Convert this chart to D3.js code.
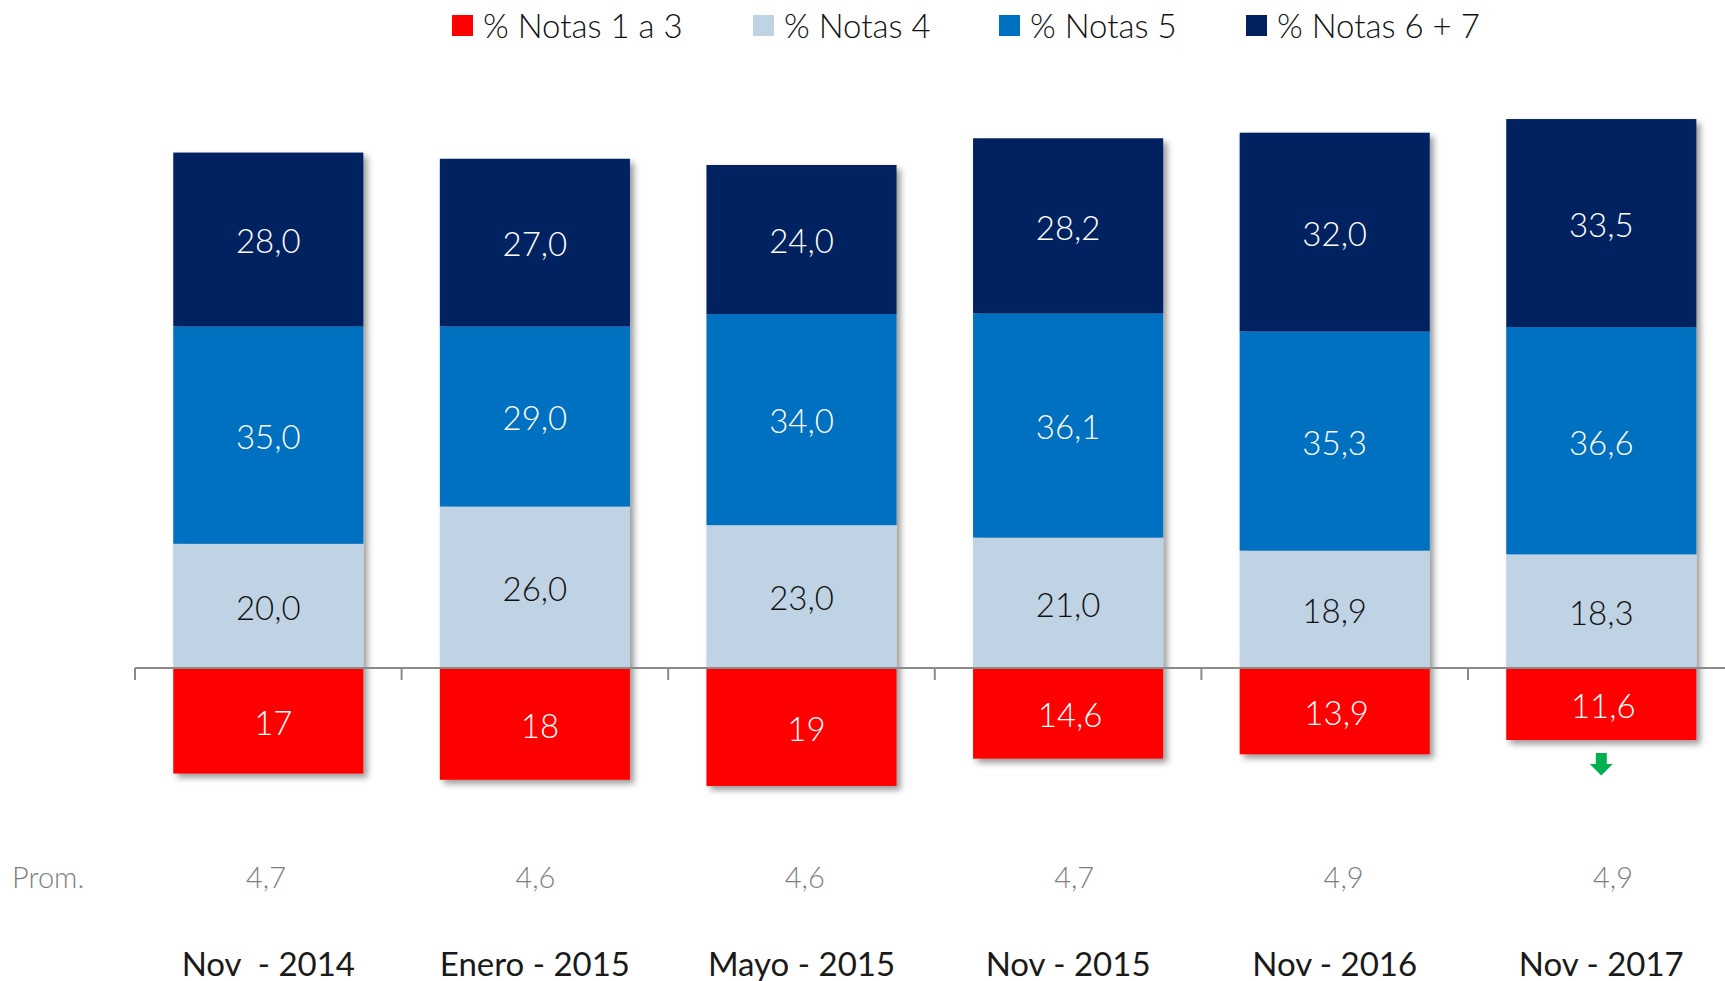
<!DOCTYPE html>
<html>
<head>
<meta charset="utf-8">
<script src="https://cdn.jsdelivr.net/npm/d3@7"></script>
<style>
  html, body { margin: 0; padding: 0; background: #fff; }
  svg { display: block; font-family: Lato, "Open Sans", sans-serif; }
</style>
</head>
<body>
<svg id="chart"></svg>
<script>
// datos
const categories = ["Nov  - 2014", "Enero - 2015", "Mayo - 2015", "Nov - 2015", "Nov - 2016", "Nov - 2017"];
const notas13 = [17, 18, 19, 14.6, 13.9, 11.6];
const notas4 = [20.0, 26.0, 23.0, 21.0, 18.9, 18.3];
const notas5 = [35.0, 29.0, 34.0, 36.1, 35.3, 36.6];
const notas67 = [28.0, 27.0, 24.0, 28.2, 32.0, 33.5];
const promedio = [4.7, 4.6, 4.6, 4.7, 4.9, 4.9];
const legendLabels = ["% Notas 1 a 3", "% Notas 4", "% Notas 5", "% Notas 6 + 7"];
const colors = ["#ff0000", "#c0d3e4", "#0070c0", "#002060"];

const width = 1725, height = 981;
const svg = d3.select("#chart").attr("width", width).attr("height", height);

// sombra de las barras
const defs = svg.append("defs");
defs.append("filter")
    .attr("id", "shadow")
    .attr("x", "-10%").attr("y", "-10%")
    .attr("width", "130%").attr("height", "130%")
    .append("feDropShadow")
    .attr("dx", 4).attr("dy", 4)
    .attr("stdDeviation", 3)
    .attr("flood-color", "#000")
    .attr("flood-opacity", 0.4);

const x = d3.scaleBand()
    .domain(categories)
    .range([135, 135 + 6 * 266.6])
    .paddingInner(0.287)
    .paddingOuter(0.1435);

const y = d3.scaleLinear()
    .domain([-20, 90])
    .range([668 + 20 * 6.21, 668 - 90 * 6.21]);

const fmt = v => v.toFixed(1).replace(".", ",");
const fmtRed = v => Number.isInteger(v) ? String(v) : fmt(v);

// apilado de los valores positivos
const rows = categories.map((c, i) => ({cat: c, n4: notas4[i], n5: notas5[i], n67: notas67[i]}));
const stack = d3.stack().keys(["n4", "n5", "n67"])(rows);

const bars = svg.append("g").attr("id", "bars");

// cada barra es un grupo con sombra
const barG = bars.selectAll("g.bar")
    .data(categories)
    .enter()
    .append("g")
    .attr("class", "bar")
    .attr("filter", "url(#shadow)");

barG.append("rect")
    .attr("x", d => x(d))
    .attr("width", x.bandwidth())
    .attr("y", y(0))
    .attr("height", (d, i) => y(-notas13[i]) - y(0))
    .style("fill", colors[0]);

stack.forEach((layer, k) => {
    barG.append("rect")
        .attr("x", d => x(d))
        .attr("width", x.bandwidth())
        .attr("y", (d, i) => y(layer[i][1]))
        .attr("height", (d, i) => y(layer[i][0]) - y(layer[i][1]))
        .style("fill", colors[k + 1]);
});

// etiquetas dentro de las barras
const labels = svg.append("g").attr("id", "labels")
    .style("font-size", "33px")
    .style("font-weight", 300);

labels.selectAll("text.red")
    .data(categories)
    .enter()
    .append("text")
    .attr("x", (d, i) => x(d) + x.bandwidth() / 2 + (Number.isInteger(notas13[i]) ? 5 : 2))
    .attr("y", (d, i) => y(-notas13[i] / 2))
    .attr("dy", "0.42em")
    .attr("text-anchor", "middle")
    .style("fill", "#fff")
    .text((d, i) => fmtRed(notas13[i]));

stack.forEach((layer, k) => {
    labels.selectAll("text.s" + k)
        .data(categories)
        .enter()
        .append("text")
        .attr("x", d => x(d) + x.bandwidth() / 2)
        .attr("y", (d, i) => y((layer[i][0] + layer[i][1]) / 2))
        .attr("dy", "0.42em")
        .attr("text-anchor", "middle")
        .style("fill", k === 0 ? "#111" : "#fff")
        .text((d, i) => fmt(layer[i][1] - layer[i][0]));
});

// eje horizontal en cero
const axis = svg.append("g").attr("id", "axis")
    .style("stroke", "#8a8a8a")
    .style("stroke-width", 2);
const x0 = x.range()[0];
axis.append("line")
    .attr("x1", x0).attr("x2", width)
    .attr("y1", y(0)).attr("y2", y(0));
axis.selectAll("line.tick")
    .data(d3.range(categories.length + 1))
    .enter()
    .append("line")
    .attr("x1", i => x0 + i * x.step())
    .attr("x2", i => x0 + i * x.step())
    .attr("y1", y(0))
    .attr("y2", y(0) + 12);

// flecha verde bajo el ultimo periodo
const last = categories[categories.length - 1];
const ax = x(last) + x.bandwidth() / 2;
const ay = y(-notas13[notas13.length - 1]) + 13;
svg.append("path")
    .attr("d", `M${ax - 5.5},${ay} h11 v11 h6 l-11.5,11.5 l-11.5,-11.5 h6 z`)
    .style("fill", "#00b050");

// fila de promedios
svg.append("text")
    .attr("x", 12)
    .attr("y", 888)
    .style("font-size", "29px")
    .style("font-weight", 300)
    .style("fill", "#7f7f7f")
    .text("Prom.");

const xp = d3.scalePoint().domain(categories).range([266, 1613]);
svg.append("g").selectAll("text")
    .data(categories)
    .enter()
    .append("text")
    .attr("x", d => xp(d))
    .attr("y", 888)
    .attr("text-anchor", "middle")
    .style("font-size", "29px")
    .style("font-weight", 300)
    .style("fill", "#7f7f7f")
    .text((d, i) => fmt(promedio[i]));

// etiquetas de categorias
svg.append("g").selectAll("text")
    .data(categories)
    .enter()
    .append("text")
    .attr("x", d => x(d) + x.bandwidth() / 2)
    .attr("y", 976)
    .attr("text-anchor", "middle")
    .style("font-size", "33px")
    .style("fill", "#1a1a1a")
    .style("white-space", "pre")
    .text(d => d);

// leyenda
const legendX = [452, 753, 999, 1246];
const legend = svg.append("g").attr("id", "legend");
legendLabels.forEach((l, i) => {
    legend.append("rect")
        .attr("x", legendX[i])
        .attr("y", 15)
        .attr("width", 21)
        .attr("height", 21)
        .style("fill", colors[i]);
    legend.append("text")
        .attr("x", legendX[i] + 31)
        .attr("y", 26)
        .attr("dy", "0.36em")
        .style("font-size", "33px")
        .style("font-weight", 300)
        .style("fill", "#111")
        .text(l);
});
</script>
</body>
</html>
